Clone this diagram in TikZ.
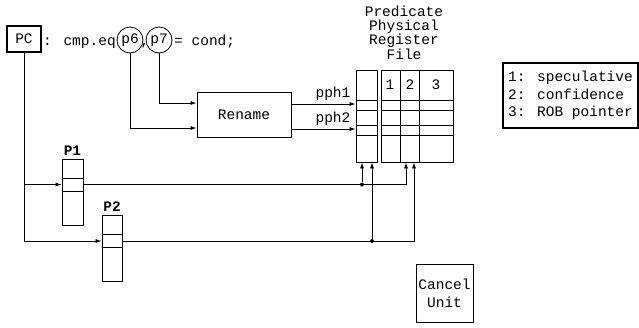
\documentclass[tikz,border=0pt]{standalone}
\usepackage{fontspec}
\setmainfont{Liberation Mono}
\usetikzlibrary{arrows.meta,calc}

\newcommand\diagfont{\fontsize{14.5}{13}\selectfont}

\tikzset{
  box/.style={draw, line width=0.8pt, inner sep=0pt},
  wire/.style={line width=0.8pt},
  feed/.style={wire, -{Latex[length=6pt,width=4pt]}},
  joint/.style={circle, fill, inner sep=0pt, minimum size=4pt},
  regcircle/.style={circle, draw, line width=0.8pt, inner sep=0pt, minimum size=26pt},
}

\begin{document}
\begin{tikzpicture}[x=1pt, y=-1pt, font=\diagfont]
\useasboundingbox (0,0) rectangle (639,327);

\def\rA{100}  % pph1 row top
\def\rB{110}
\def\rC{125}  % pph2 row top
\def\rD{135}

% instruction line
\node[draw, line width=1.6pt, minimum width=34pt, minimum height=26pt, inner sep=0pt] (pc) at (24,39) {PC};
\node[anchor=base west, inner sep=0pt] (op) at (43,45) {: cmp.eq};
\node[regcircle] (p6) at (130,40) {p6};
\node[regcircle] (p7) at (159,40) {p7};
\node[anchor=base, inner sep=0pt] (comma) at (145,45) {,};
\node[anchor=base west, inner sep=0pt] (dst) at (174,45) {= cond;};

% rename and register file
\node[box, minimum width=94pt, minimum height=45pt] (rename) at (244,114.5) {Rename};
\node[box, minimum width=21pt, minimum height=92pt] (prf) at (366.5,116) {};
\node[box, minimum width=72pt, minimum height=92pt] (prfx) at (417,116) {};
\foreach \y in {\rA,\rB,\rC,\rD} {
  \draw[wire] (356,\y) -- (377,\y);
  \draw[wire] (381,\y) -- (453,\y);
}
\foreach \x in {400,419}
  \draw[wire] (\x,70) -- (\x,162);
\foreach \x/\lab in {390/1, 410/2, 436/3}
  \node (f\lab) at (\x,85) {\lab};
\node[align=center, font=\fontsize{14.5}{13.4}\selectfont] (title) at (404,33)
  {Predicate\\Physical\\Register\\File};

% predicate queues
\node[box, minimum width=21pt, minimum height=66pt] (p1) at (72.5,192) {};
\node[box, minimum width=21pt, minimum height=13pt] (p1s) at (72.5,184.5) {};
\node[anchor=south, font=\diagfont\bfseries] (p1lab) at (p1.north) {P1};
\node[box, minimum width=20pt, minimum height=13pt] (p2s) at (112,241) {};
\node[box, minimum width=20pt, minimum height=66pt] (p2) at (112,248) {};
\node[anchor=south, font=\diagfont\bfseries] (p2lab) at (p2.north) {P2};

% side boxes
\node[box, line width=1.2pt, minimum width=135pt, minimum height=65pt, align=left,
  font=\fontsize{14.5}{17.5}\selectfont] (legend) at (570.5,95.5)
  {1: speculative\\2: confidence\\3: ROB pointer};
\node[box, minimum width=57pt, minimum height=58pt, align=center,
  font=\fontsize{14.5}{18}\selectfont] (cancel) at (444.5,293) {Cancel\\Unit};

% wires
\draw[feed] (p7.south) |- ($(rename.west)+(0,-11.5)$);
\draw[feed] (p6.south) |- ($(rename.west)+(0,13.5)$);

\coordinate (o1) at ($(rename.east)+(0,-10.5)$);
\coordinate (o2) at ($(rename.east)+(0,14.5)$);
\draw[feed] (o1) -- (o1 -| prf.west);
\draw[feed] (o2) -- (o2 -| prf.west);
\node[anchor=base east, inner sep=0pt] (pph1) at ($(o1 -| prf.west)+(-5,-7)$) {pph1};
\node[anchor=base east, inner sep=0pt] (pph2) at ($(o2 -| prf.west)+(-5,-7)$) {pph2};

\draw[feed] (pc.south) |- (p2s.west);
\draw[feed] (pc.south |- p1s.west) -- (p1s.west);

\coordinate (t1) at ($(prf.south)+(-4.5,0)$);
\coordinate (t2) at ($(prf.south)+(5.5,0)$);
\coordinate (t3) at ($(prfx.south)+(-11,0)$);
\coordinate (t4) at ($(prfx.south)+(-3,0)$);

\draw[feed] (p1s.east) -| (t3);
\node[joint] (j1) at (t1 |- p1s.east) {};
\draw[feed] (j1) -- (t1);
\draw[feed] (p2s.east) -| (t4);
\node[joint] (j2) at (t2 |- p2s.east) {};
\draw[feed] (j2) -- (t2);

\end{tikzpicture}
\end{document}
